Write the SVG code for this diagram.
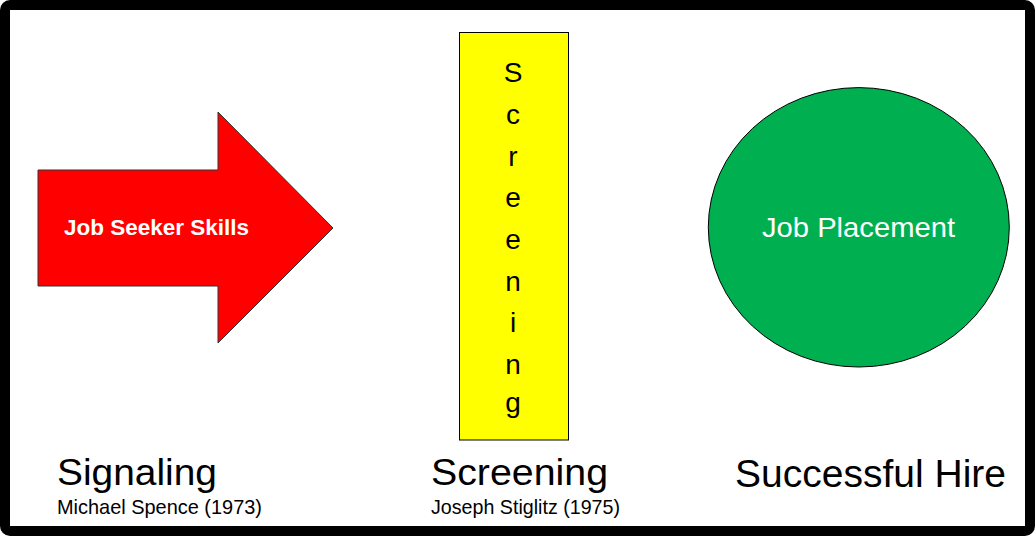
<svg xmlns="http://www.w3.org/2000/svg" width="1035" height="536" viewBox="0 0 1035 536">
<style>
.t{font-family:"Liberation Sans",Arial,sans-serif}
.v{font-family:"Liberation Sans",Arial,sans-serif;font-size:28px;fill:#000;text-anchor:middle}
.h{font-size:37px;fill:#000}
.s{font-size:21px;fill:#000}
</style>
<rect id="frame" x="5" y="5" width="1025" height="526" rx="5" ry="5" fill="#fff" stroke="#000" stroke-width="10"/>
<g id="connectors"/>
<g id="signaling-arrow">
<polygon points="38,170 218,170 218,112 333,228 218,343 218,286 38,286" fill="#ff0000" stroke="#333" stroke-width="1"/>
<text class="t" x="64" y="235" font-size="22" font-weight="bold" fill="#fff" textLength="185" lengthAdjust="spacingAndGlyphs">Job Seeker Skills</text>
</g>
<g id="screening-box">
<rect x="459.5" y="32.5" width="109" height="407.5" fill="#ffff00" stroke="#000" stroke-width="1"/>
<text class="v" x="513" y="82">S</text>
<text class="v" x="513" y="124">c</text>
<text class="v" x="513" y="165.5">r</text>
<text class="v" x="513" y="207">e</text>
<text class="v" x="513" y="249">e</text>
<text class="v" x="513" y="290.5">n</text>
<text class="v" x="513" y="332">i</text>
<text class="v" x="513" y="373.5">n</text>
<text class="v" x="513" y="412">g</text>
</g>
<g id="job-placement">
<ellipse cx="858.8" cy="227.3" rx="150.5" ry="139.7" fill="#00b050" stroke="#000" stroke-width="1"/>
<text class="t" x="762" y="237" font-size="28" fill="#fff" textLength="193" lengthAdjust="spacingAndGlyphs">Job Placement</text>
</g>
<g id="label-signaling">
<text class="t h" x="57" y="484.5" textLength="160" lengthAdjust="spacingAndGlyphs">Signaling</text>
<text class="t s" x="57" y="514" textLength="205" lengthAdjust="spacingAndGlyphs">Michael Spence (1973)</text>
</g>
<g id="label-screening">
<text class="t h" x="431" y="484.5" textLength="177" lengthAdjust="spacingAndGlyphs">Screening</text>
<text class="t s" x="431" y="514" textLength="189" lengthAdjust="spacingAndGlyphs">Joseph Stiglitz (1975)</text>
</g>
<g id="label-hire">
<text class="t" x="735" y="486.5" font-size="38" fill="#000" textLength="271" lengthAdjust="spacingAndGlyphs">Successful Hire</text>
</g>
</svg>
